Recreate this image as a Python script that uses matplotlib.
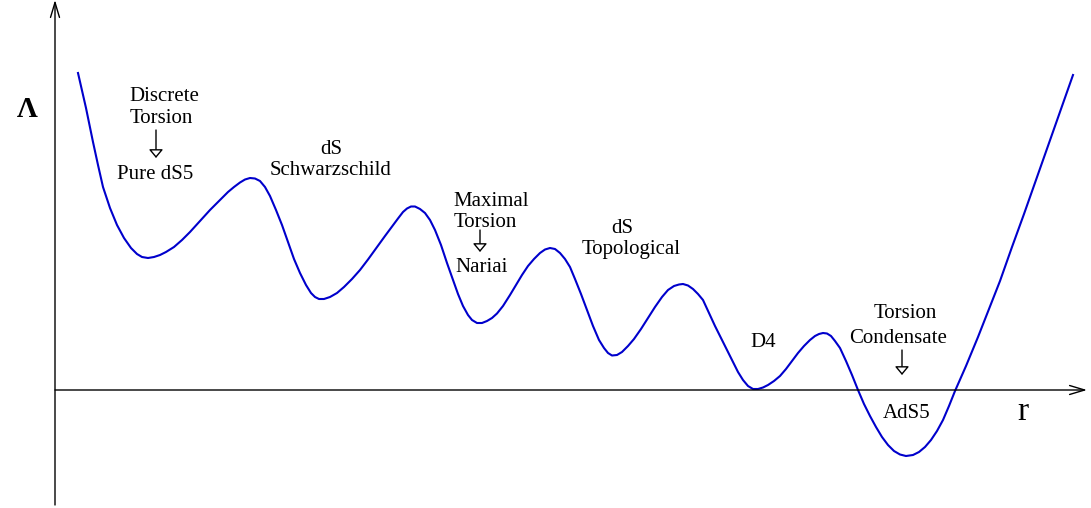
import matplotlib.pyplot as plt

# curve: r along the horizontal axis, Lambda up the vertical
r = [23, 31, 38, 43, 48, 55, 62, 69, 76, 82, 87, 93, 99, 105, 111, 119, 127, 135,
     145, 155, 165, 173, 179, 185, 190, 195, 200, 205, 210, 215, 221, 227, 233,
     239, 245, 251, 256, 260, 264, 269, 275, 282, 289, 297, 305, 313, 322, 330,
     337, 343, 348, 352, 356, 360, 365, 370, 375, 380, 386, 392, 398, 403, 408,
     413, 417, 422, 427, 432, 437, 442, 448, 455, 461, 467, 473, 479, 485, 490,
     495, 500, 505, 510, 515, 520, 526, 532, 538, 544, 549, 553, 557, 562, 567,
     573, 579, 586, 593, 600, 607, 613, 619, 624, 628, 633, 638, 643, 648, 654,
     660, 666, 672, 678, 683, 688, 693, 698, 703, 708, 713, 719, 725, 731, 737,
     743, 749, 755, 760, 764, 768, 772, 776, 780, 785, 791, 797, 803, 809, 815,
     821, 827, 833, 839, 845, 851, 858, 864, 870, 876, 882, 888, 894, 900, 911,
     923, 934, 945, 957, 969, 981, 993, 1005, 1018]
lam = [317, 282, 248, 225, 203, 182, 165, 152, 142, 136, 133, 132, 133, 135, 138,
       143, 150, 158, 169, 180, 190, 198, 203, 207.5, 210.5, 212, 211.5, 209, 203,
       194, 180, 165, 148, 131, 117, 105, 97, 93, 91, 91, 93, 97, 103, 111, 120,
       130.5, 143, 154, 163.5, 171.5, 178, 181.5, 183.5, 183.5, 181, 177, 170, 160,
       145, 127, 110, 96, 84, 75, 70, 67, 67, 69, 72, 76.5, 84, 95, 105, 115, 124,
       131, 137, 140.5, 142, 141, 137, 131, 123, 111, 96, 80, 64, 50, 42, 37, 34.5,
       35, 38, 44, 51, 61, 72, 83, 93, 100, 104, 105.5, 106, 104.5, 101, 96, 90,
       77, 64, 52, 40, 28, 18, 10, 4, 1, 1, 2.5, 5, 9, 14, 21, 29, 37, 44, 50, 54,
       56, 57, 56.5, 54, 49, 42, 29, 15, 0, -14, -26, -37, -47, -55, -61, -64.5,
       -66, -65, -62, -57, -50, -41, -30, -16, -1, 24, 53, 81, 109, 143, 176, 210,
       244, 278, 315]

# text lines: (text, x centre, baseline)
labels = [
    ("Discrete", 109, 289),
    ("Torsion", 106, 267),
    ("Pure dS5", 100, 211),
    ("dS", 276, 236),
    ("Schwarzschild", 276, 215),
    ("Maximal", 436, 184),
    ("Torsion", 430, 163),
    ("Nariai", 427, 118),
    ("dS", 567, 157),
    ("Topological", 576, 136),
    ("D4", 708, 43),
    ("Torsion", 850, 72),
    ("Condensate", 843, 47),
    ("AdS5", 852, -28),
]
arrows = [(101, 260, 101, 232), (425, 160, 425, 138), (847, 40, 847, 15)]

fig = plt.figure(figsize=(10.91, 5.08), dpi=100)
ax = fig.add_axes([0, 0, 1, 1])
ax.set_xlim(-55, 1036)
ax.set_ylim(-118, 390)
ax.axis("off")

# axes with open arrow heads
axis_arrow = dict(arrowstyle="->,head_length=0.6,head_width=0.18", lw=1,
                  color="black", mutation_scale=18, shrinkA=0, shrinkB=0)
ax.annotate("", xy=(1032, 0), xytext=(0, 0), arrowprops=axis_arrow)
ax.annotate("", xy=(0, 390), xytext=(0, -115), arrowprops=axis_arrow)

ax.plot(r, lam, color="#0000cc", lw=1.5, solid_joinstyle="round")

serif = "Liberation Serif"
for txt, x, y in labels:
    ax.text(x, y, txt, ha="center", va="baseline", fontsize=15, family=serif)

for x0, y0, x1, y1 in arrows:
    ax.annotate("", xy=(x1, y1), xytext=(x0, y0),
                arrowprops=dict(arrowstyle="-|>,head_length=0.3,head_width=0.25",
                                lw=1, color="black", fc="white",
                                mutation_scale=17, shrinkA=0, shrinkB=0))

ax.text(-28, 273, "Λ", ha="center", va="baseline", fontsize=21,
        family=serif, fontweight="bold")
ax.text(968, -30, "r", ha="center", va="baseline", fontsize=24, family=serif)

fig.savefig("out.png")
